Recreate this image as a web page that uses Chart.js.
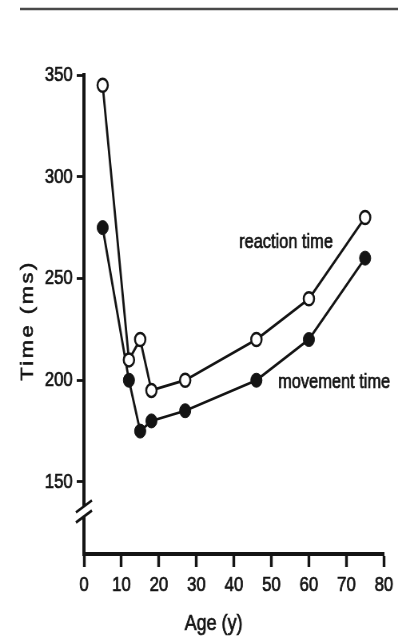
<!DOCTYPE html>
<html>
<head>
<meta charset="utf-8">
<script src="https://cdn.jsdelivr.net/npm/chart.js@4.4.1/dist/chart.umd.min.js"></script>
<style>
  html, body { margin: 0; padding: 0; background: #fff; }
  #chartAge { display: block; }
</style>
</head>
<body>
<!-- the scanned figure is squeezed sideways, so draw wide and show it at 398px -->
<canvas id="chartAge" width="498" height="640" style="width:398px;height:640px"></canvas>
<script>
// Data
const ages = [5, 12, 15, 18, 27, 46, 60, 75];
const reactionTime = [345, 210, 220, 195, 200, 220, 240, 280];
const movementTime = [275, 200, 175, 180, 185, 200, 220, 260];
const yTickValues = [150, 200, 250, 300, 350];
const xTickValues = [0, 10, 20, 30, 40, 50, 60, 70, 80];

const FAMILY = '"Liberation Sans", Arial, Helvetica, sans-serif';
const INK = '#141414';

function inkText(ctx, text, x, y) {
  ctx.strokeText(text, x, y);
  ctx.fillText(text, x, y);
}

const decorations = {
  id: 'decorations',
  beforeDraw(chart) {
    const ctx = chart.ctx;
    ctx.save();
    ctx.fillStyle = '#fff';
    ctx.fillRect(0, 0, chart.width, chart.height);
    // rule at the top of the page
    ctx.strokeStyle = '#4a4a4a';
    ctx.lineWidth = 2.5;
    ctx.beginPath();
    ctx.moveTo(25, 9);
    ctx.lineTo(chart.width, 9);
    ctx.stroke();
    ctx.restore();
  },
  afterDraw(chart) {
    const ctx = chart.ctx;
    const xs = chart.scales.x, ys = chart.scales.y;
    const ax = chart.chartArea.left;
    ctx.save();

    // axis break
    const pA = ys.getPixelForValue(138), pB = ys.getPixelForValue(133);
    ctx.fillStyle = '#fff';
    ctx.fillRect(ax - 4, pA, 8, pB - pA);
    ctx.strokeStyle = INK;
    ctx.lineWidth = 2.8;
    [pA, pB].forEach(p => {
      ctx.beginPath();
      ctx.moveTo(ax - 10, p + 6);
      ctx.lineTo(ax + 10, p - 6);
      ctx.stroke();
    });

    // series labels
    ctx.fillStyle = INK;
    ctx.lineWidth = 0.7;
    ctx.textBaseline = 'middle';
    ctx.textAlign = 'left';
    ctx.font = '20.5px ' + FAMILY;
    inkText(ctx, 'reaction time', xs.getPixelForValue(41.4), ys.getPixelForValue(268));
    inkText(ctx, 'movement time', xs.getPixelForValue(51.8), ys.getPixelForValue(199));

    // axis titles
    ctx.textAlign = 'center';
    ctx.font = '22.5px ' + FAMILY;
    inkText(ctx, 'Age (y)', xs.getPixelForValue(34.6), 624);

    ctx.translate(35, (chart.chartArea.top + chart.chartArea.bottom) / 2 + 6);
    ctx.rotate(-Math.PI / 2);
    ctx.font = '22px ' + FAMILY;
    ctx.letterSpacing = '2.5px';
    inkText(ctx, 'Time (ms)', 0, 0);
    ctx.restore();
  }
};

const ctx_age = document.getElementById('chartAge');

new Chart(ctx_age, {
  type: 'line',
  data: {
    labels: ages,
    datasets: [{
      label: 'reaction time',
      data: ages.map((a, i) => ({ x: a, y: reactionTime[i] })),
      borderColor: INK,
      borderWidth: 2.8,
      pointRadius: 6.5,
      pointBorderWidth: 2.5,
      pointBackgroundColor: '#fff',
      pointBorderColor: INK,
      tension: 0
    },
    {
      label: 'movement time',
      data: ages.map((a, i) => ({ x: a, y: movementTime[i] })),
      borderColor: INK,
      borderWidth: 2.8,
      pointRadius: 7,
      pointBorderWidth: 1,
      pointBackgroundColor: INK,
      pointBorderColor: INK,
      tension: 0
    }]
  },
  options: {
    responsive: false,
    maintainAspectRatio: false,
    animation: false,
    clip: false,
    layout: {
      padding: { top: 75, right: 9, left: 0, bottom: 0 }
    },
    scales: {
      x: {
        type: 'linear',
        min: 0,
        max: 80,
        afterFit: s => { s.height = 86; },
        afterBuildTicks: s => { s.ticks = xTickValues.map(v => ({ value: v })); },
        border: { color: INK, width: 4 },
        grid: {
          drawOnChartArea: false,
          tickLength: 13,
          tickWidth: 3.4,
          tickColor: INK
        },
        ticks: {
          color: INK,
          padding: 6,
          maxRotation: 0,
          autoSkip: false,
          textStrokeColor: INK,
          textStrokeWidth: 0.7,
          font: { family: FAMILY, size: 21 }
        }
      },
      y: {
        min: 114.6,
        max: 350,
        afterFit: s => { s.width = 105; },
        afterBuildTicks: s => { s.ticks = yTickValues.map(v => ({ value: v })); },
        border: { color: INK, width: 4 },
        grid: {
          drawOnChartArea: false,
          tickLength: 9,
          tickWidth: 2.8,
          tickColor: INK
        },
        ticks: {
          color: INK,
          padding: 5,
          textStrokeColor: INK,
          textStrokeWidth: 0.7,
          font: { family: FAMILY, size: 21 }
        }
      }
    },
    plugins: {
      legend: { display: false },
      tooltip: { enabled: false }
    }
  },
  plugins: [decorations]
});
</script>
</body>
</html>
